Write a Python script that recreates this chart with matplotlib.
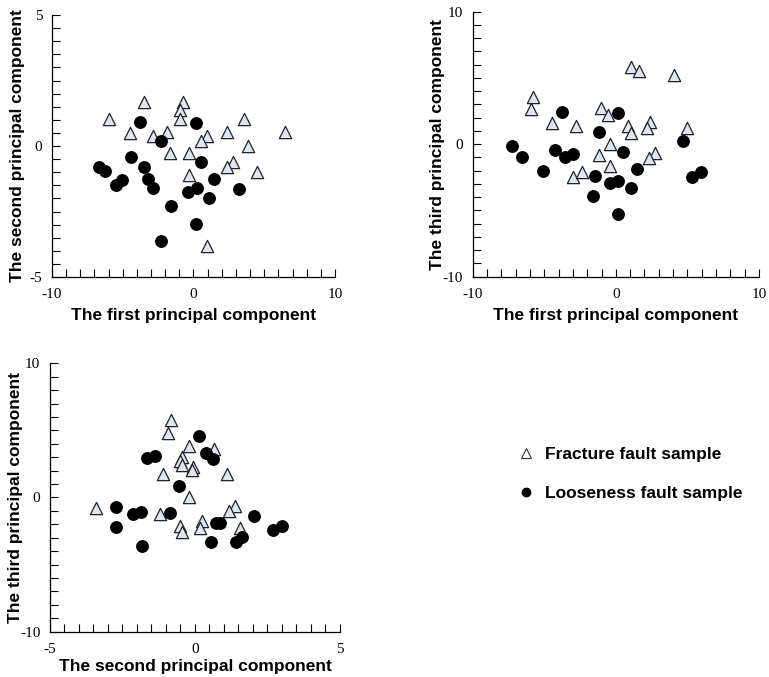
import matplotlib
matplotlib.use("Agg")
import matplotlib.pyplot as plt
from matplotlib.lines import Line2D
import numpy as np

plt.rcParams["axes.unicode_minus"] = False

# panel 1: PC1 vs PC2
p1_tri_x = [-6.0, -3.53, -4.47, -2.87, -1.84, -0.75, -0.94, -0.94, -1.65, -0.35, -0.35,
            0.94, 0.54, 2.4, 3.58, 3.88, 6.47, 2.78, 2.4, 4.47, 0.94]
p1_tri_y = [1.02, 1.69, 0.51, 0.38, 0.55, 1.69, 1.37, 1.05, -0.28, -0.28, -1.11,
            0.38, 0.2, 0.55, 1.02, 0.0, 0.55, -0.6, -0.81, -0.98, -3.8]
p1_dot_x = [-6.71, -6.24, -5.46, -5.06, -4.4, -3.76, -3.53, -3.18, -2.87, -2.31,
            -1.6, -2.31, -0.4, 0.24, 0.19, 0.54, 1.11, 1.48, 0.19, 3.25]
p1_dot_y = [-0.79, -0.94, -1.49, -1.3, -0.43, 0.9, -0.81, -1.27, -1.61, 0.19,
            -2.27, -3.63, -1.77, -1.61, 0.86, -0.6, -1.97, -1.27, -2.97, -1.64]

# panel 2: PC1 vs PC3
p2_tri_x = [-5.76, -5.95, -4.43, -2.8, -3.01, -2.39, -1.04, -0.52, -0.41, -1.15, -0.41,
            1.04, 1.64, 4.06, 0.87, 1.04, 2.39, 2.2, 2.74, 2.34, 5.0]
p2_tri_y = [3.53, 2.63, 1.62, 1.37, -2.45, -2.13, 2.7, 2.2, 0.01, -0.82, -1.62,
            5.85, 5.52, 5.19, 1.37, 0.87, 1.7, 1.19, -0.64, -1.02, 1.19]
p2_dot_x = [-7.28, -6.58, -5.11, -4.25, -3.78, -3.55, -2.97, -1.15, -1.46, -1.62,
            -0.41, 0.13, 0.17, 0.52, 1.06, 1.46, 0.17, 4.71, 5.34, 5.95]
p2_dot_y = [-0.11, -0.94, -2.0, -0.44, 2.4, -0.99, -0.77, 0.89, -2.4, -3.91,
            -2.91, -2.78, 2.33, -0.62, -3.33, -1.9, -5.3, 0.24, -2.45, -2.13]

# panel 3: PC2 vs PC3
p3_tri_x = [-3.43, -0.84, -0.94, -0.2, 0.66, -0.46, -0.52, -0.43, -0.08, -0.11, -1.09,
            1.11, -0.2, -1.21, -0.52, -0.43, 0.25, 0.17, 1.38, 1.18, 1.57]
p3_tri_y = [-0.76, 5.78, 4.84, 3.86, 3.61, 3.04, 2.72, 2.42, 2.3, 2.05, 1.75,
            1.75, 0.06, -1.25, -2.1, -2.55, -1.73, -2.25, -0.61, -1.0, -2.25]
p3_dot_x = [-2.72, -2.74, -2.13, -1.86, -1.84, -1.67, -1.38, -0.86, -0.55, 0.15,
            0.38, 0.61, 0.54, 0.72, 0.86, 1.41, 1.63, 2.05, 2.68, 2.99]
p3_dot_y = [-0.73, -2.17, -1.23, -1.06, -3.59, 2.92, 3.12, -1.13, 0.88, 4.61,
            3.34, 2.87, -3.34, -1.93, -1.93, -3.29, -2.97, -1.35, -2.42, -2.1]

labels = ["Fracture fault sample", "Looseness fault sample"]
tri_face = "#dfe6f0"
tick_font = "Liberation Serif"
label_font = "Liberation Sans"


def style_axes(ax, xlim, ylim, xstep, ystep, xlabel, ylabel, xpad, ypad):
    ax.set_xlim(*xlim)
    ax.set_ylim(*ylim)
    for s in ["top", "right"]:
        ax.spines[s].set_visible(False)
    for s in ["left", "bottom"]:
        ax.spines[s].set_linewidth(0.9)
    ax.set_xticks([xlim[0], 0, xlim[1]])
    ax.set_yticks([ylim[0], 0, ylim[1]])
    ax.set_xticks(np.arange(xlim[0], xlim[1] + xstep / 2, xstep), minor=True)
    ax.set_yticks(np.arange(ylim[0], ylim[1] + ystep / 2, ystep), minor=True)
    ax.tick_params(which="both", direction="in", length=5.5, width=0.8)
    ax.tick_params(axis="x", which="major", pad=8)
    ax.tick_params(axis="y", which="major", pad=7)
    for t in ax.get_xticklabels() + ax.get_yticklabels():
        t.set_fontfamily(tick_font)
        t.set_fontsize(11)
    ax.set_xlabel(xlabel, fontfamily=label_font, fontweight="bold", fontsize=12.5, labelpad=xpad)
    ax.set_ylabel(ylabel, fontfamily=label_font, fontweight="bold", fontsize=12.5, labelpad=ypad)


def draw(ax, tx, ty, dx, dy):
    ax.scatter(tx, ty, marker="^", s=78, facecolor=tri_face, edgecolor="#222222",
               linewidth=0.9, zorder=3)
    ax.scatter(dx, dy, marker="o", s=68, facecolor="black", edgecolor="black", zorder=3)


fig = plt.figure(figsize=(7.69, 6.77), dpi=100)
ax1 = fig.add_axes([0.0676, 0.5908, 0.368, 0.387])
ax2 = fig.add_axes([0.6147, 0.5913, 0.3723, 0.3914])
ax3 = fig.add_axes([0.065, 0.0669, 0.377, 0.3965])

draw(ax1, p1_tri_x, p1_tri_y, p1_dot_x, p1_dot_y)
style_axes(ax1, (-10, 10), (-5, 5), 1, 0.5,
           "The first principal component", "The second principal component", 5, 3)

draw(ax2, p2_tri_x, p2_tri_y, p2_dot_x, p2_dot_y)
style_axes(ax2, (-10, 10), (-10, 10), 1, 1,
           "The first principal component", "The third principal component", 5, -2)

draw(ax3, p3_tri_x, p3_tri_y, p3_dot_x, p3_dot_y)
style_axes(ax3, (-5, 5), (-10, 10), 0.5, 1,
           "The second principal component", "The third principal component", 2, -2)

handles = [
    Line2D([], [], linestyle="none", marker="^", markersize=7.5, markerfacecolor="white",
           markeredgecolor="#333333", markeredgewidth=0.8),
    Line2D([], [], linestyle="none", marker="o", markersize=6, markerfacecolor="black",
           markeredgecolor="black"),
]
fig.legend(handles, labels, loc="center left", bbox_to_anchor=(0.653, 0.3),
           frameon=False, handlelength=1.0, handletextpad=0.55, labelspacing=1.35,
           prop={"family": label_font, "weight": "bold", "size": 12.5})

fig.savefig("out.png", dpi=100)
